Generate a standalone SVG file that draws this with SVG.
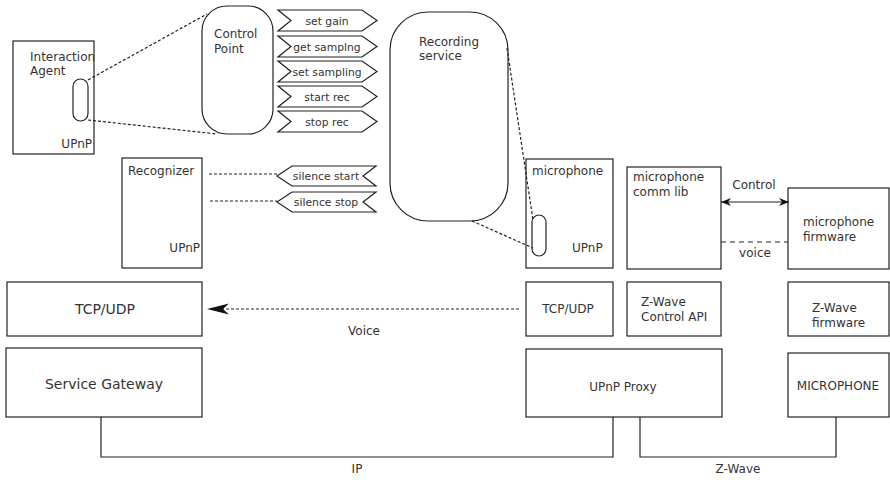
<svg xmlns="http://www.w3.org/2000/svg" width="890" height="480" viewBox="0 0 890 480">
<defs>
<style>
.b{fill:#fff;stroke:#222;stroke-width:1.2}
.t{font-family:"DejaVu Sans",sans-serif;font-size:12px;fill:#333}
.s{font-family:"DejaVu Sans",sans-serif;font-size:10.8px;fill:#333}
.L{font-family:"DejaVu Sans",sans-serif;font-size:14px;fill:#333}
.m{text-anchor:middle}
.e{text-anchor:end}
.d{fill:none;stroke:#222;stroke-width:1.2;stroke-dasharray:3,2}
.l{fill:none;stroke:#222;stroke-width:1.2}
</style>
<marker id="ah" viewBox="0 0 10 8" refX="10" refY="4" markerWidth="10" markerHeight="8" markerUnits="userSpaceOnUse" orient="auto-start-reverse">
<path d="M0,0 L10,4 L0,8 L3,4 z" fill="#111"/>
</marker>
</defs>
<rect width="890" height="480" fill="#fff"/>

<g id="interaction-agent">
<rect class="b" x="13" y="41" width="81" height="113"/>
<text class="t" x="30" y="61">Interaction</text>
<text class="t" x="30" y="75">Agent</text>
<text class="t e" x="92" y="148">UPnP</text>
<rect class="b" x="73" y="79" width="15" height="42" rx="7.5"/>
</g>

<g id="control-point">
<rect class="b" x="202" y="6" width="71" height="128" rx="25"/>
<text class="t" x="214" y="38">Control</text>
<text class="t" x="214" y="53">Point</text>
</g>

<g id="msg-set-gain">
<polygon class="b" points="278,10 362,10 377,20.5 362,31 278,31 291,20.5"/>
<text class="s m" x="327" y="24.5">set gain</text>
</g>
<g id="msg-get-sampling">
<polygon class="b" points="278,36 362,36 377,46.5 362,57 278,57 291,46.5"/>
<text class="s m" x="327" y="50.5">get samplng</text>
</g>
<g id="msg-set-sampling">
<polygon class="b" points="278,61 362,61 377,71.5 362,82 278,82 291,71.5"/>
<text class="s m" x="327" y="75.5">set sampling</text>
</g>
<g id="msg-start-rec">
<polygon class="b" points="278,86 362,86 377,96.5 362,107 278,107 291,96.5"/>
<text class="s m" x="327" y="100.5">start rec</text>
</g>
<g id="msg-stop-rec">
<polygon class="b" points="278,111 362,111 377,121.5 362,132 278,132 291,121.5"/>
<text class="s m" x="327" y="125.5">stop rec</text>
</g>

<g id="recognizer">
<rect class="b" x="122" y="158" width="80" height="110"/>
<text class="t" x="128" y="175">Recognizer</text>
<text class="t e" x="200" y="252">UPnP</text>
</g>

<g id="msg-silence-start">
<polygon class="b" points="277,176 292,166 376,166 363,176 376,186 292,186"/>
<text class="s m" x="326" y="180">silence start</text>
</g>
<g id="msg-silence-stop">
<polygon class="b" points="277,202 292,192 376,192 363,202 376,212 292,212"/>
<text class="s m" x="326" y="206">silence stop</text>
</g>

<g id="recording-service">
<rect class="b" x="390" y="12" width="118" height="209" rx="38"/>
<text class="t" x="419" y="46">Recording</text>
<text class="t" x="419" y="60">service</text>
</g>

<g id="microphone">
<rect class="b" x="526" y="159" width="87" height="109"/>
<text class="t" x="532" y="175">microphone</text>
<text class="t" x="572" y="252">UPnP</text>
<rect class="b" x="532" y="215" width="14" height="41" rx="7"/>
</g>

<g id="microphone-comm-lib">
<rect class="b" x="627" y="167" width="94" height="102"/>
<text class="t" x="633" y="181">microphone</text>
<text class="t" x="633" y="196">comm lib</text>
</g>

<g id="microphone-firmware">
<rect class="b" x="788" y="188" width="101" height="81"/>
<text class="t" x="803" y="226">microphone</text>
<text class="t" x="803" y="241">firmware</text>
</g>

<g id="tcp-udp-left">
<rect class="b" x="7" y="282" width="195" height="54"/>
<text class="L m" x="105" y="314">TCP/UDP</text>
</g>

<g id="service-gateway">
<rect class="b" x="6" y="348" width="196" height="69"/>
<text class="L m" x="104" y="389">Service Gateway</text>
</g>

<g id="tcp-udp-right">
<rect class="b" x="526" y="282" width="87" height="54"/>
<text class="t m" x="568" y="313">TCP/UDP</text>
</g>

<g id="zwave-control-api">
<rect class="b" x="627" y="282" width="94" height="54"/>
<text class="t" x="641" y="306">Z-Wave</text>
<text class="t" x="641" y="321">Control API</text>
</g>

<g id="zwave-firmware">
<rect class="b" x="788" y="282" width="101" height="54"/>
<text class="t" x="812" y="312">Z-Wave</text>
<text class="t" x="812" y="327">firmware</text>
</g>

<g id="upnp-proxy">
<rect class="b" x="526" y="349" width="196" height="68"/>
<text class="t m" x="623" y="391">UPnP Proxy</text>
</g>

<g id="microphone-device">
<rect class="b" x="788" y="353" width="101" height="64"/>
<text class="t m" x="838" y="390">MICROPHONE</text>
</g>

<g id="connectors">
<line class="d" x1="88" y1="80" x2="207" y2="14"/>
<line class="d" x1="88" y1="120" x2="217" y2="134"/>
<line class="d" x1="209" y1="174" x2="277" y2="174"/>
<line class="d" x1="210" y1="201" x2="277" y2="201"/>
<line class="d" x1="507" y1="48" x2="533" y2="220"/>
<line class="d" x1="472" y1="221" x2="533" y2="248"/>
<line class="l" x1="721" y1="202" x2="789" y2="202" marker-start="url(#ah)" marker-end="url(#ah)"/>
<text class="t m" x="754" y="189">Control</text>
<line class="l" x1="721" y1="242" x2="788" y2="242" stroke-dasharray="5,4"/>
<text class="t m" x="755" y="257">voice</text>
<line class="d" x1="519" y1="309" x2="222" y2="309" stroke-dasharray="2,1.5"/>
<path d="M207,309 L229,303.5 L223,309 L229,314.5 z" fill="#111"/>
<text class="t m" x="364" y="335">Voice</text>
<polyline class="l" points="101,417 101,457 613,457 613,417"/>
<text class="t m" x="357" y="473">IP</text>
<polyline class="l" points="640,417 640,457 836,457 836,417"/>
<text class="t m" x="738" y="473">Z-Wave</text>
</g>
</svg>
